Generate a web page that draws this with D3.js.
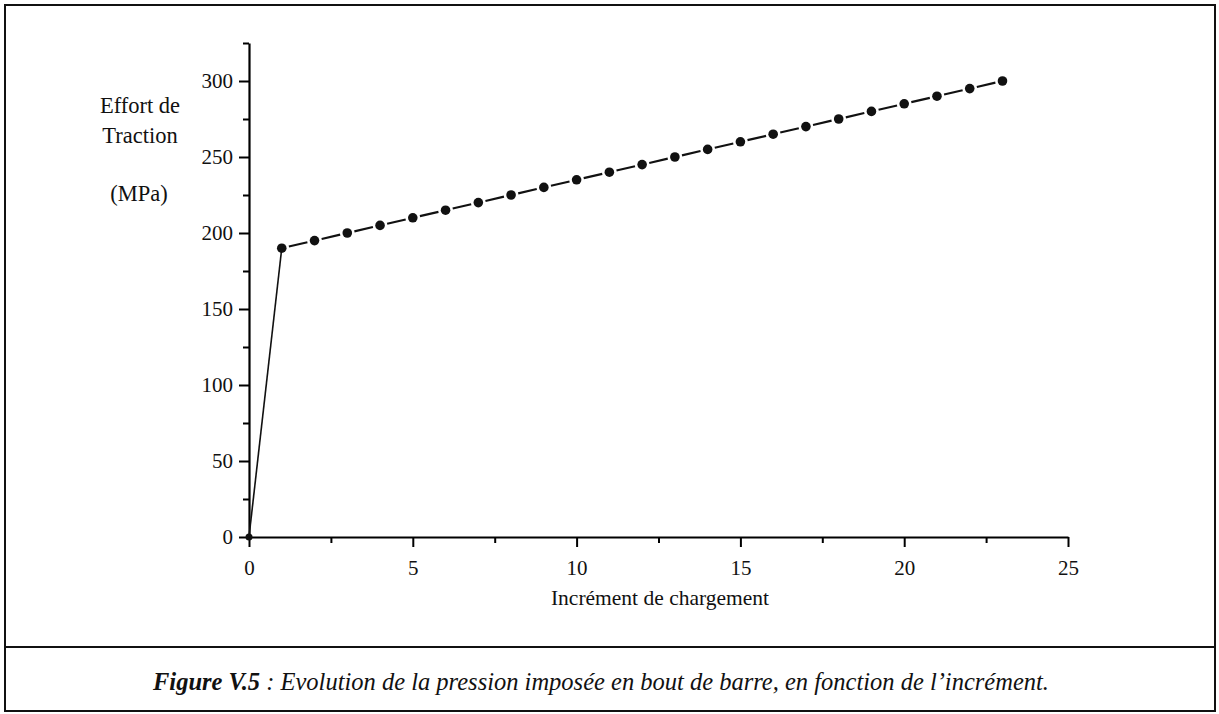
<!DOCTYPE html>
<html>
<head>
<meta charset="utf-8">
<script src="https://cdn.jsdelivr.net/npm/d3@7"></script>
<style>
    body { margin: 0; background: #fff; }
    text { font-family: "Liberation Serif", "Times New Roman", serif; fill: #111; }
</style>
</head>
<body>
<div id="chart"></div>
<script>
// Daten
const increments = [0, 1, 2, 3, 4, 5, 6, 7, 8, 9, 10, 11, 12, 13, 14, 15, 16, 17, 18, 19, 20, 21, 22, 23];
const traction = [0, 190, 195, 200, 205, 210, 215, 220, 225, 230, 235, 240, 245, 250, 255, 260, 265, 270, 275, 280, 285, 290, 295, 300];
const xTicks = [0, 5, 10, 15, 20, 25];
const yTicks = [0, 50, 100, 150, 200, 250, 300];
const yLabelLines = ["Effort de", "Traction"];
const yUnit = "(MPa)";
const xLabel = "Incrément de chargement";
const captionBold = "Figure V.5";
const captionText = " : Evolution de la pression imposée en bout de barre, en fonction de l\u2019incrément.";

const W = 1219, H = 714;
const margin = {top: 43, left: 249};
const width = 1068 - margin.left;
const height = 537 - margin.top;

const root = d3.select("#chart")
    .append("svg")
    .attr("width", W)
    .attr("height", H);

// Rahmen
root.append("rect")
    .attr("x", 5).attr("y", 5)
    .attr("width", 1210).attr("height", 706)
    .attr("fill", "none")
    .attr("stroke", "#111")
    .attr("stroke-width", 2);
root.append("line")
    .attr("x1", 5).attr("x2", 1215)
    .attr("y1", 647).attr("y2", 647)
    .attr("stroke", "#111")
    .attr("stroke-width", 2);

const svg = root.append("g")
    .attr("transform", `translate(${margin.left},${margin.top})`);

const x = d3.scaleLinear().domain([0, 25]).range([0, width]);
const y = d3.scaleLinear().domain([0, 325]).range([height, 0]);

// X-Achse (Nebenstriche)
svg.append("g")
    .attr("transform", `translate(0,${height})`)
    .call(d3.axisBottom(x).tickValues(d3.range(2.5, 25, 5)).tickSize(6).tickFormat(""))
    .call(g => g.select(".domain").remove())
    .selectAll("line").attr("stroke-width", 2);

// X-Achse
svg.append("g")
    .attr("transform", `translate(0,${height})`)
    .attr("font-family", null)
    .call(d3.axisBottom(x).tickValues(xTicks).tickSize(10).tickSizeOuter(0).tickPadding(13))
    .call(g => g.attr("font-family", null).attr("font-size", null))
    .call(g => g.select(".domain").attr("stroke-width", 2.2))
    .call(g => g.selectAll("line").attr("stroke-width", 2))
    .selectAll("text")
    .style("font-size", "21px")
    .style("font-family", "'Liberation Serif', serif");

// Y-Achse (Nebenstriche)
svg.append("g")
    .call(d3.axisLeft(y).tickValues(d3.range(25, 326, 50)).tickSize(6).tickFormat(""))
    .call(g => g.select(".domain").remove())
    .selectAll("line").attr("stroke-width", 2);

// Y-Achse
svg.append("g")
    .call(d3.axisLeft(y).tickValues(yTicks).tickSize(10).tickSizeOuter(0).tickPadding(6))
    .call(g => g.attr("font-family", null).attr("font-size", null))
    .call(g => g.select(".domain").attr("stroke-width", 2.2))
    .call(g => g.selectAll("line").attr("stroke-width", 2))
    .selectAll("text")
    .style("font-size", "21px")
    .style("font-family", "'Liberation Serif', serif");

// Achsentitel
root.selectAll(".ylab")
    .data(yLabelLines)
    .join("text")
    .attr("class", "ylab")
    .attr("x", 140)
    .attr("y", (d, i) => 113 + i * 30)
    .attr("text-anchor", "middle")
    .attr("font-size", "22.5px")
    .text(d => d);

root.append("text")
    .attr("x", 139).attr("y", 201)
    .attr("text-anchor", "middle")
    .attr("font-size", "22.5px")
    .text(yUnit);

root.append("text")
    .attr("x", 660).attr("y", 605)
    .attr("text-anchor", "middle")
    .attr("font-size", "21.5px")
    .text(xLabel);

// Kurve: erstes Segment durchgezogen, danach Striche zwischen den Punkten
const pts = increments.map((d, i) => [x(d), y(traction[i])]);
const r = 4.8, gap = 2.5;

svg.append("line")
    .attr("x1", pts[0][0]).attr("y1", pts[0][1])
    .attr("x2", pts[1][0]).attr("y2", pts[1][1])
    .attr("stroke", "#111")
    .attr("stroke-width", 1.6);

const segs = d3.pairs(pts.slice(1));
svg.selectAll(".seg")
    .data(segs)
    .join("line")
    .attr("class", "seg")
    .each(function([a, b]) {
        const dx = b[0] - a[0], dy = b[1] - a[1];
        const len = Math.hypot(dx, dy);
        const ux = dx / len, uy = dy / len, off = r + gap;
        d3.select(this)
            .attr("x1", a[0] + ux * off).attr("y1", a[1] + uy * off)
            .attr("x2", b[0] - ux * off).attr("y2", b[1] - uy * off);
    })
    .attr("stroke", "#111")
    .attr("stroke-width", 2.2);

svg.selectAll(".pt")
    .data(increments)
    .join("circle")
    .attr("class", "pt")
    .attr("cx", d => x(d))
    .attr("cy", (d, i) => y(traction[i]))
    .attr("r", (d, i) => i === 0 ? 3.5 : r)
    .attr("fill", "#111");

// Legende unten
const cap = root.append("text")
    .attr("x", 153).attr("y", 690)
    .attr("font-size", "24.5px")
    .attr("font-style", "italic");
cap.append("tspan").attr("font-weight", "bold").text(captionBold);
cap.append("tspan").text(captionText);
</script>
</body>
</html>
